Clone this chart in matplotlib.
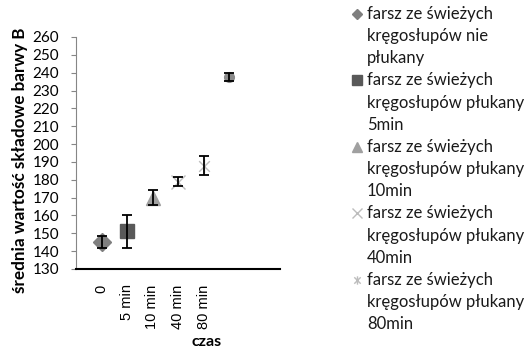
import numpy as np
import matplotlib.pyplot as plt
from matplotlib.path import Path
from matplotlib.lines import Line2D

plt.rcParams['font.family'] = ['Lato', 'DejaVu Sans']

# dane
kategorie = ['0', '5 min', '10 min', '40 min', '80 min']
x_pos = [1, 2, 3, 4, 5, 6]
srednie = [145.0, 151.5, 170.0, 178.8, 187.8, 237.7]
err_gora = [148.5, 160.2, 174.3, 181.6, 193.5, 239.9]
err_dol = [141.5, 141.9, 166.0, 176.7, 182.5, 235.3]
etykiety = ['farsz ze świeżych\nkręgosłupów nie\npłukany',
            'farsz ze świeżych\nkręgosłupów płukany\n5min',
            'farsz ze świeżych\nkręgosłupów płukany\n10min',
            'farsz ze świeżych\nkręgosłupów płukany\n40min',
            'farsz ze świeżych\nkręgosłupów płukany\n80min']

# znacznik "gwiazdka" jak w Excelu (x + pionowa kreska)
gwiazdka = Path([(-1, -1), (1, 1), (-1, 1), (1, -1), (0, -1.3), (0, 1.3)],
                [Path.MOVETO, Path.LINETO, Path.MOVETO, Path.LINETO, Path.MOVETO, Path.LINETO])

style = [dict(marker='D', ms=9, color='#7f7f7f', mec='#7f7f7f'),
         dict(marker='s', ms=9.5, color='#595959', mec='#595959'),
         dict(marker='^', ms=10.5, color='#a0a0a0', mec='#a0a0a0'),
         dict(marker='x', ms=10, color='#bdbdbd', mec='#bdbdbd', mew=1.0),
         dict(marker=gwiazdka, ms=10, color='#bdbdbd', mec='#bdbdbd', mew=1.0),
         dict(marker='o', ms=7, color='#8a8a8a', mec='#8a8a8a')]
leg_ms = [5.5, 7, 7, 6.5, 6]

fig = plt.figure(figsize=(5.3, 3.51), dpi=100)
ax = fig.add_axes([76 / 530, 1 - 269 / 351, 204 / 530, 232 / 351])

for i in range(len(x_pos)):
    yerr = [[srednie[i] - err_dol[i]], [err_gora[i] - srednie[i]]]
    ax.errorbar([x_pos[i]], [srednie[i]], yerr=yerr, ls='none', ecolor='black',
                elinewidth=1.3, capsize=3.5, capthick=1.3, zorder=3)
    ax.plot([x_pos[i]], [srednie[i]], ls='none', zorder=2, **style[i])

ax.set_xlim(0, 8)
ax.set_ylim(130, 260)
ax.set_yticks(np.arange(130, 261, 10))
ax.set_xticks(x_pos[:5])
ax.set_xticklabels(kategorie, rotation=90, fontsize=10.5, family=['Liberation Sans', 'DejaVu Sans'])
ax.tick_params(axis='x', length=0, pad=11)
ax.tick_params(axis='y', labelsize=11, length=3.6, width=0.8, color='#868686', pad=8.6)
for s in ['top', 'right']:
    ax.spines[s].set_visible(False)
ax.spines['left'].set_color('#868686')
ax.spines['left'].set_linewidth(0.8)
ax.spines['bottom'].set_color('black')
ax.spines['bottom'].set_linewidth(1.5)

fig.text(20 / 530, 1 - 160 / 351, 'średnia wartość składowe barwy B', rotation=90,
         ha='center', va='center', fontsize=12.3, fontweight='bold')
fig.text(207 / 530, 1 - 342 / 351, 'czas', ha='center', va='center', fontsize=11.5,
         fontweight='bold')

# legenda
y0 = 14
krok = 22.15
for i, tekst in enumerate(etykiety):
    linie = tekst.split('\n')
    for j, linia in enumerate(linie):
        yy = y0 + (i * 3 + j) * krok
        fig.text(367 / 530, 1 - yy / 351, linia, ha='left', va='center', fontsize=12,
                 color='#1a1a1a')
    st = dict(style[i])
    st['ms'] = leg_ms[i]
    fig.add_artist(Line2D([357 / 530], [1 - (y0 + i * 3 * krok) / 351], ls='none',
                          transform=fig.transFigure, **st))

fig.savefig('out.png', dpi=100)
